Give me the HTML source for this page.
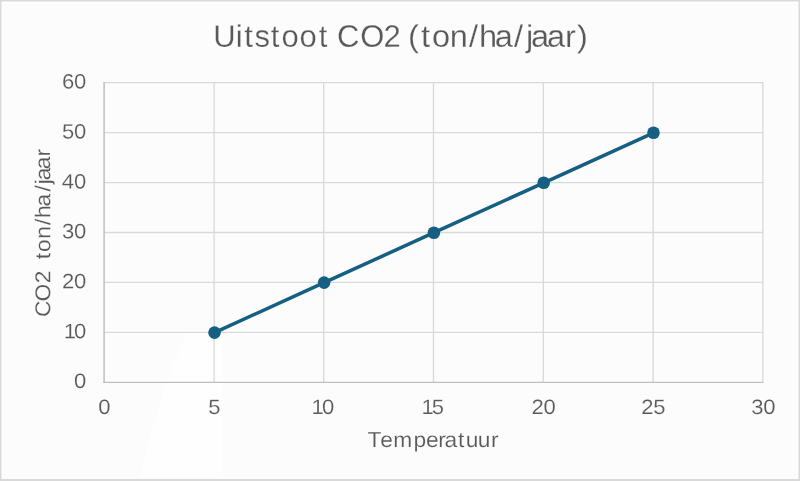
<!DOCTYPE html>
<html><head><meta charset="utf-8">
<title>Uitstoot CO2 (ton/ha/jaar)</title>
<style>
html,body{margin:0;padding:0;background:#fcfcfc;}
body{width:800px;height:481px;overflow:hidden;position:relative;font-family:"Liberation Sans",sans-serif;}
svg{position:absolute;left:0;top:0;display:block;will-change:transform;}
text{font-family:"Liberation Sans",sans-serif;fill:#595959;text-rendering:geometricPrecision;}
</style></head><body>
<svg width="800" height="481" viewBox="0 0 800 481">
<rect x="0" y="0" width="800" height="481" fill="#fcfcfc"/>
<!-- subtle lighter shape -->
<path d="M187,332 L223,332 L223,481 L140,481 Q156,400 187,332 Z" fill="#fefefe"/>
<!-- outer border -->
<rect x="2" y="2" width="796" height="477" fill="none" stroke="#ffffff" stroke-width="1"/>
<rect x="0.75" y="0.75" width="798.5" height="479.5" fill="none" stroke="#d9d9d9" stroke-width="1.5"/>
<line x1="0" y1="480" x2="800" y2="480" stroke="#d9d9d9" stroke-width="2"/>
<!-- gridlines -->
<g stroke="#d9d9d9" stroke-width="1.3" fill="none">
<line x1="104" y1="82.7" x2="763.4" y2="82.7"/>
<line x1="104" y1="132.6" x2="763.4" y2="132.6"/>
<line x1="104" y1="182.6" x2="763.4" y2="182.6"/>
<line x1="104" y1="232.5" x2="763.4" y2="232.5"/>
<line x1="104" y1="282.4" x2="763.4" y2="282.4"/>
<line x1="104" y1="332.4" x2="763.4" y2="332.4"/>
<line x1="214.1" y1="82.1" x2="214.1" y2="382.3"/>
<line x1="323.7" y1="82.1" x2="323.7" y2="382.3"/>
<line x1="433.5" y1="82.1" x2="433.5" y2="382.3"/>
<line x1="543.3" y1="82.1" x2="543.3" y2="382.3"/>
<line x1="653.1" y1="82.1" x2="653.1" y2="382.3"/>
<line x1="762.9" y1="82.1" x2="762.9" y2="382.3"/>
</g>
<!-- axes -->
<g stroke="#bfbfbf" fill="none">
<line x1="104.1" y1="82.1" x2="104.1" y2="383.0" stroke-width="1.5"/>
<line x1="103.4" y1="382.4" x2="763.3" y2="382.4" stroke-width="1.35"/>
</g>
<!-- series -->
<polyline points="214.5,332.6 324.1,282.6 433.9,232.7 543.7,182.8 653.5,132.8" fill="none" stroke="#156082" stroke-width="3.5" stroke-linecap="round" stroke-linejoin="round"/>
<g fill="#156082">
<circle cx="214.5" cy="332.6" r="6.3"/>
<circle cx="324.1" cy="282.6" r="6.3"/>
<circle cx="433.9" cy="232.7" r="6.3"/>
<circle cx="543.7" cy="182.8" r="6.3"/>
<circle cx="653.5" cy="132.8" r="6.3"/>
</g>
<!-- title -->
<g font-size="31" stroke="#fcfcfc" stroke-width="0.22" transform="rotate(0.03 400 46.8)">
<text x="213.3 235.7 244.2 254.5 270.8 281.6 299.6 318.7" y="46.8">Uitstoot</text>
<text x="336.9 360.2 383.4" y="46.8">CO2</text>
<text x="388.5 401.0 411.4 428.3 446.6 456.2 471.2 489.6 500.9 505.7 520.9 538.0 549.5" y="46.8" transform="scale(1.05,1)">(ton/ha/jaar)</text>
</g>
<!-- y tick labels -->
<g font-size="20.8" stroke="#fcfcfc" stroke-width="0.15">
<text transform="rotate(0.03 75.0 88.5) scale(1.06,1)" x="58.46 69.81" y="88.5">60</text>
<text transform="rotate(0.03 75.0 138.4) scale(1.06,1)" x="58.42 69.81" y="138.4">50</text>
<text transform="rotate(0.03 75.0 188.4) scale(1.06,1)" x="58.16 69.81" y="188.4">40</text>
<text transform="rotate(0.03 75.0 238.3) scale(1.06,1)" x="58.46 69.81" y="238.3">30</text>
<text transform="rotate(0.03 75.0 288.2) scale(1.06,1)" x="58.59 69.81" y="288.2">20</text>
<text transform="rotate(0.03 75.0 338.2) scale(1.06,1)" x="60.07 69.81" y="338.2">10</text>
<text transform="rotate(0.03 80.0 388.1) scale(1.06,1)" x="69.81" y="388.1">0</text>
</g>
<!-- x tick labels -->
<g font-size="20.8" stroke="#fcfcfc" stroke-width="0.15">
<text transform="rotate(0.03 104.5 414.0) scale(1.06,1)" x="92.80" y="414.0">0</text>
<text transform="rotate(0.03 214.5 414.0) scale(1.06,1)" x="196.55" y="414.0">5</text>
<text transform="rotate(0.03 324.1 414.0) scale(1.06,1)" x="293.96 303.70" y="414.0">10</text>
<text transform="rotate(0.03 433.9 414.0) scale(1.06,1)" x="397.59 407.31" y="414.0">15</text>
<text transform="rotate(0.03 543.7 414.0) scale(1.06,1)" x="501.41 512.63" y="414.0">20</text>
<text transform="rotate(0.03 653.5 414.0) scale(1.06,1)" x="605.04 616.24" y="414.0">25</text>
<text transform="rotate(0.03 763.3 414.0) scale(1.06,1)" x="708.65 720.00" y="414.0">30</text>
</g>
<!-- axis titles -->
<text x="346.6 358.8 371.1 390.2 401.9 413.4 419.3 432.2 439.3 450.7 463.2" y="447.0" font-size="21.5" stroke="#fcfcfc" stroke-width="0.15" transform="rotate(0.03 434 447.0) scale(1.06,1)">Temperatuur</text>
<g font-size="21.5" transform="translate(50.2,320.0) rotate(-90.03) scale(1.06,1)" stroke="#fcfcfc" stroke-width="0.15">
<text x="2.8 17.5 34.6" y="0">CO2</text>
<text x="57.3 64.2 76.6 89.7 96.3 107.1 121.3 128.0 131.8 142.3 154.2" y="0">ton/ha/jaar</text>
</g>
</svg>
</body></html>
